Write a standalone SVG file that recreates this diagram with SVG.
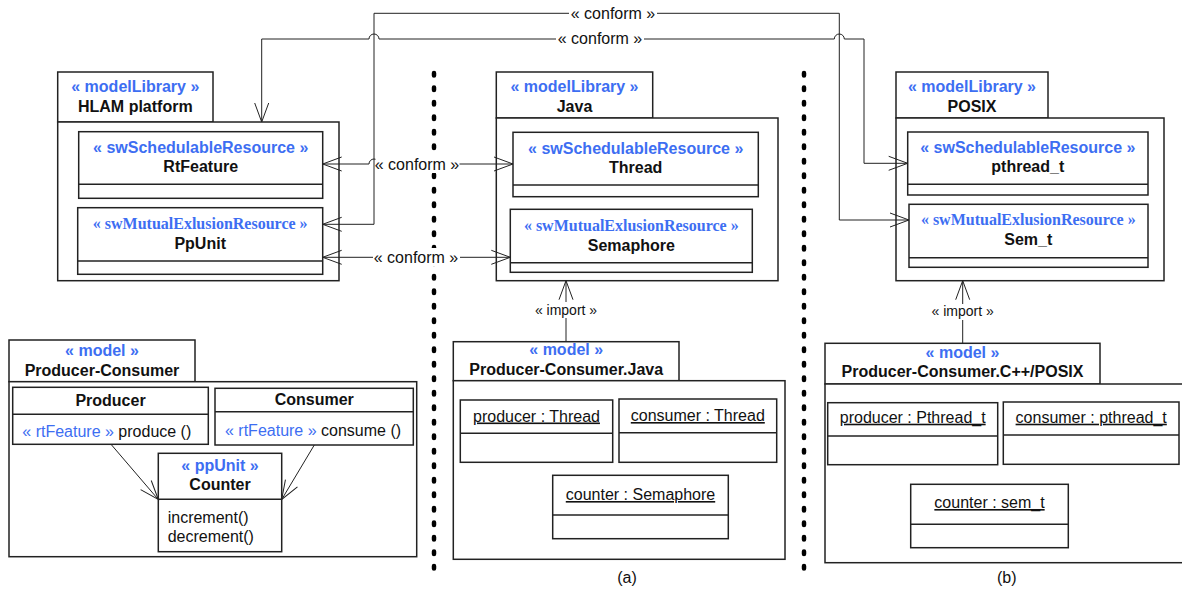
<svg xmlns="http://www.w3.org/2000/svg" width="1182" height="590" viewBox="0 0 1182 590">
<defs>
<marker id="oa" markerUnits="userSpaceOnUse" markerWidth="22" markerHeight="18" viewBox="0 0 22 18" refX="20" refY="8" orient="auto-start-reverse">
<path d="M1,1 L20,8 L1,15" fill="none" stroke="#222" stroke-width="1"/>
</marker>
</defs>
<style>
.box{fill:#fff;stroke:#222;stroke-width:1.5}
.div{stroke:#222;stroke-width:1.5}
.ln{fill:none;stroke:#222;stroke-width:1}
.sep{stroke:#000;stroke-width:4.5;stroke-linecap:round;stroke-dasharray:2.5 12}
text{font-family:"Liberation Sans",Arial,sans-serif;font-size:16px;fill:#111}
.c{text-anchor:middle}
.b{font-weight:bold}
.st{font-weight:bold;fill:#3d6ef2}
.ss{font-family:"Liberation Serif","Times New Roman",serif;font-weight:bold;fill:#3d6ef2}
.bl{fill:#3d6ef2}
.u{text-decoration:underline}
.sm{font-size:14px}
.bg{fill:#fff;stroke:none}
</style>
<rect width="1182" height="590" fill="#fff"/>

<g id="separators">
<line class="sep" x1="434" y1="73" x2="434" y2="577"/>
<line class="sep" x1="804" y1="73" x2="804" y2="577"/>
</g>

<g id="hlam">
<rect class="box" x="57.7" y="72" width="155.3" height="50"/>
<rect class="box" x="57.7" y="122" width="281.3" height="158.7"/>
<text class="c st" x="135.3" y="92">« modelLibrary »</text>
<text class="c b" x="135.3" y="112">HLAM platform</text>
</g>
<g id="rtfeature">
<rect class="box" x="78.7" y="131.7" width="244" height="66.6"/>
<line class="div" x1="78.7" y1="184.3" x2="322.7" y2="184.3"/>
<text class="c st" x="200.7" y="152.7">« swSchedulableResource »</text>
<text class="c b" x="200.7" y="172.3">RtFeature</text>
</g>
<g id="ppunit">
<rect class="box" x="77.7" y="207.7" width="245" height="66.6"/>
<line class="div" x1="77.7" y1="261" x2="322.7" y2="261"/>
<text class="c ss" x="200.2" y="229.3">« swMutualExlusionResource »</text>
<text class="c b" x="200.2" y="249">PpUnit</text>
</g>

<g id="java">
<rect class="box" x="496.3" y="72" width="156.4" height="46"/>
<rect class="box" x="496.3" y="118" width="281.7" height="162.7"/>
<text class="c st" x="574.5" y="92">« modelLibrary »</text>
<text class="c b" x="574.5" y="112">Java</text>
</g>
<g id="thread">
<rect class="box" x="513" y="132.3" width="245.3" height="64.4"/>
<line class="div" x1="513" y1="185" x2="758.3" y2="185"/>
<text class="c st" x="635.7" y="154">« swSchedulableResource »</text>
<text class="c b" x="635.7" y="173.3">Thread</text>
</g>
<g id="semaphore">
<rect class="box" x="510.3" y="209.3" width="242" height="63"/>
<line class="div" x1="510.3" y1="262.7" x2="752.3" y2="262.7"/>
<text class="c ss" x="631.3" y="230.7">« swMutualExlusionResource »</text>
<text class="c b" x="631.3" y="250.7">Semaphore</text>
</g>

<g id="posix">
<rect class="box" x="896" y="72" width="152" height="46"/>
<rect class="box" x="896" y="118" width="268" height="162.7"/>
<text class="c st" x="972" y="92">« modelLibrary »</text>
<text class="c b" x="972" y="112">POSIX</text>
</g>
<g id="pthread">
<rect class="box" x="907.7" y="132" width="240.3" height="63"/>
<line class="div" x1="907.7" y1="184.3" x2="1148" y2="184.3"/>
<text class="c st" x="1027.8" y="153.3">« swSchedulableResource »</text>
<text class="c b" x="1027.8" y="172.3">pthread_t</text>
</g>
<g id="semt">
<rect class="box" x="909" y="204.3" width="239" height="63"/>
<line class="div" x1="909" y1="257.7" x2="1148" y2="257.7"/>
<text class="c ss" x="1028.3" y="225">« swMutualExlusionResource »</text>
<text class="c b" x="1028.3" y="245">Sem_t</text>
</g>

<g id="pc">
<rect class="box" x="9" y="340" width="186" height="41.7"/>
<rect class="box" x="9" y="381.7" width="407.7" height="175"/>
<text class="c st" x="102" y="356">« model »</text>
<text class="c b" x="102" y="376">Producer-Consumer</text>
</g>
<g id="producer">
<rect class="box" x="12.7" y="387.3" width="195.6" height="57"/>
<line class="div" x1="12.7" y1="414.3" x2="208.3" y2="414.3"/>
<text class="c b" x="110.5" y="406">Producer</text>
<text x="22.3" y="437"><tspan class="bl">« rtFeature »</tspan> produce ()</text>
</g>
<g id="consumer">
<rect class="box" x="215" y="388.3" width="198.3" height="56.7"/>
<line class="div" x1="215" y1="411.7" x2="413.3" y2="411.7"/>
<text class="c b" x="314.2" y="405">Consumer</text>
<text x="225" y="435.5"><tspan class="bl">« rtFeature »</tspan> consume ()</text>
</g>
<g id="counter">
<rect class="box" x="158.3" y="453.3" width="123.4" height="98.4"/>
<line class="div" x1="158.3" y1="499.3" x2="281.7" y2="499.3"/>
<text class="c st" x="220" y="470.7">« ppUnit »</text>
<text class="c b" x="220" y="490">Counter</text>
<text x="167.7" y="523.3">increment()</text>
<text x="167.7" y="542.3">decrement()</text>
</g>

<g id="pcjava">
<rect class="box" x="453.3" y="341.7" width="225.7" height="39"/>
<rect class="box" x="453.3" y="380.7" width="331.7" height="178.6"/>
<text class="c st" x="566.2" y="355">« model »</text>
<text class="c b" x="566.2" y="375">Producer-Consumer.Java</text>
<text class="c" x="627" y="583">(a)</text>
</g>
<g id="jproducer">
<rect class="box" x="460.3" y="400" width="152.4" height="62.3"/>
<line class="div" x1="460.3" y1="433.3" x2="612.7" y2="433.3"/>
<text class="c u" x="536.5" y="421.5">producer : Thread</text>
</g>
<g id="jconsumer">
<rect class="box" x="619" y="399" width="157.7" height="63.3"/>
<line class="div" x1="619" y1="432.7" x2="776.7" y2="432.7"/>
<text class="c u" x="697.8" y="421">consumer : Thread</text>
</g>
<g id="jcounter">
<rect class="box" x="552.7" y="475.3" width="175.6" height="63.4"/>
<line class="div" x1="552.7" y1="515" x2="728.3" y2="515"/>
<text class="c u" x="640.5" y="500">counter : Semaphore</text>
</g>

<g id="pcposix">
<rect class="box" x="825" y="343.3" width="275" height="40.7"/>
<rect class="box" x="825" y="384" width="362" height="178.7"/>
<text class="c st" x="962.5" y="358.3">« model »</text>
<text class="c b" x="962.5" y="377.3">Producer-Consumer.C++/POSIX</text>
<text class="c" x="1006.7" y="583">(b)</text>
</g>
<g id="pproducer">
<rect class="box" x="827.7" y="402.7" width="170" height="62"/>
<line class="div" x1="827.7" y1="436" x2="997.7" y2="436"/>
<text class="c u" x="912.7" y="422.7">producer : Pthread_t</text>
</g>
<g id="pconsumer">
<rect class="box" x="1003.3" y="402" width="175.7" height="62.3"/>
<line class="div" x1="1003.3" y1="435" x2="1179" y2="435"/>
<text class="c u" x="1091.2" y="422.7">consumer : pthread_t</text>
</g>
<g id="pcounter">
<rect class="box" x="910.7" y="484.3" width="157.6" height="63.4"/>
<line class="div" x1="910.7" y1="524.3" x2="1068.3" y2="524.3"/>
<text class="c u" x="989.5" y="508">counter : sem_t</text>
</g>

<g id="connectors">
<path class="ln" marker-start="url(#oa)" marker-end="url(#oa)" d="M322.7,224.3 H374 V13.3 H839.3 V220 H909"/>
<path class="ln" marker-start="url(#oa)" marker-end="url(#oa)" d="M261.7,122 V39 H369 A5,5 0 0 1 379,39 H834.3 A5,5 0 0 1 844.3,39 H864 V163.3 H907.7"/>
<path class="ln" marker-start="url(#oa)" marker-end="url(#oa)" d="M322.7,164 H369 A5,5 0 0 1 379,164 H513"/>
<path class="ln" marker-start="url(#oa)" marker-end="url(#oa)" d="M322.7,257.3 H510.3"/>
<path class="ln" marker-end="url(#oa)" d="M566,341.7 V280.7"/>
<path class="ln" marker-end="url(#oa)" d="M962.7,343.3 V280.7"/>
<path class="ln" marker-end="url(#oa)" d="M111,444.3 L158.3,499.5"/>
<path class="ln" marker-end="url(#oa)" d="M314.3,445 L281.7,499.5"/>
<rect class="bg" x="569" y="3" width="88" height="20"/>
<text class="c" x="613" y="18.5">« conform »</text>
<rect class="bg" x="556" y="29" width="88" height="20"/>
<text class="c" x="600" y="44.3">« conform »</text>
<rect class="bg" x="375.5" y="155" width="84" height="18"/>
<text class="c" x="417" y="170">« conform »</text>
<rect class="bg" x="373" y="248" width="87" height="18"/>
<text class="c" x="416" y="263">« conform »</text>
<rect class="bg" x="535" y="302" width="62" height="16"/>
<text class="c sm" x="566" y="314.5">« import »</text>
<rect class="bg" x="931.5" y="304" width="62" height="16"/>
<text class="c sm" x="962.7" y="316.3">« import »</text>
</g>
</svg>
